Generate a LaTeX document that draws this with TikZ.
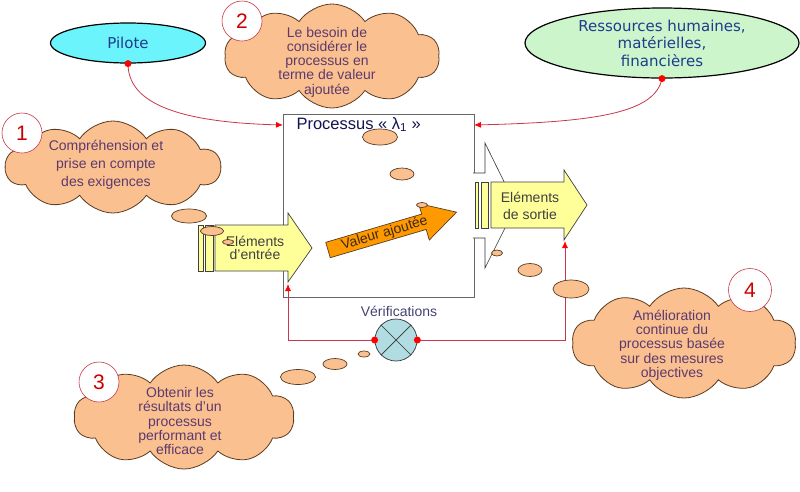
\documentclass[tikz,border=0pt]{standalone}
\usepackage{fontspec}
\setmainfont{Liberation Sans}
\newfontfamily\bullefont{DejaVu Sans}
\usetikzlibrary{shapes.symbols,shapes.geometric,arrows.meta,positioning}
\definecolor{peche}{HTML}{FAC08F}
\definecolor{brun}{HTML}{5A3A20}
\definecolor{violet}{HTML}{5C3A6E}
\definecolor{jaune}{HTML}{FFFF99}
\definecolor{orangef}{HTML}{FF9900}
\definecolor{cyanp}{HTML}{6CF4FC}
\definecolor{vertp}{HTML}{CCF5CC}
\definecolor{bleut}{HTML}{1F3C8C}
\definecolor{marine}{HTML}{141450}
\definecolor{rougel}{HTML}{C8384C}
\definecolor{bleuv}{HTML}{B0DCE2}
\definecolor{grist}{HTML}{404040}

\begin{document}
\begin{tikzpicture}[x=1pt,y=-1pt,
  nuage/.style={cloud, cloud puffs=10, cloud puff arc=112, cloud ignores aspect, draw=brun, fill=peche, line width=0.8pt, inner sep=0pt},
  bulle/.style={ellipse, draw=brun, fill=peche, line width=0.7pt, inner sep=0pt},
  badge/.style={circle, draw=rougel, fill=white, line width=0.6pt, minimum size=40pt, inner sep=0pt, text=red!80!black, font=\fontsize{21}{21}\selectfont},
  txtnuage/.style={align=center, text=violet, font=\fontsize{14}{14.3}\selectfont},
  txtfleche/.style={align=center, text=grist, font=\fontsize{14}{13}\selectfont},
  fleche/.style={draw=black!75, line width=0.7pt},
  lien/.style={draw=rougel, line width=0.8pt, -{Latex[length=7pt,width=6pt,color=red]}},
  point/.style={circle, fill=red, inner sep=0pt, minimum size=7pt},
]
\useasboundingbox (0,0) rectangle (800,491);

\node (pilote) [ellipse, draw, line width=1.2pt, fill=cyanp, minimum width=155, minimum height=40, inner sep=0pt, text=bleut, font=\bullefont\fontsize{15}{15}\selectfont] at (128,43) {Pilote};
\node (ress) [ellipse, draw, line width=1.2pt, fill=vertp, minimum width=274, minimum height=70, inner sep=0pt, align=center, text=bleut, font=\bullefont\fontsize{15}{17.5}\selectfont] at (662,43) {Ressources humaines,\\matérielles,\\financières};

\node (proc) [draw=black!60, line width=1pt, fill=white, minimum width=191, minimum height=183, inner sep=0pt, anchor=north west] at (283,114) {};
\coordinate (proc-in) at (283,125);
\coordinate (proc-res) at (474,125);
\node (titre) [anchor=base west, text=marine, font=\fontsize{16.5}{16}\selectfont] at (293,129) {Processus « λ\textsubscript{1} »};

\draw[lien] (pilote.south) .. controls (128,100) and (170,122) .. (proc-in);
\draw[lien] (ress.south) .. controls (655,112) and (600,122) .. (proc-res);
\node[point] at (pilote.south) {};
\node[point] at (ress.south) {};

\node (nuage1) [nuage, minimum width=215, minimum height=92] at (113,167) {};
\node (txt1) [txtnuage, font=\fontsize{14}{18}\selectfont] at (106,165) {Compréhension et\\prise en compte\\des exigences};
\node (num1) [badge] at (22,133) {1};

\node (nuage2) [nuage, minimum width=215, minimum height=104] at (332,56) {};
\node (txt2) [txtnuage] at (327,62) {Le besoin de\\considérer le\\processus en\\terme de valeur\\ajoutée};
\node (num2) [badge] at (242,21) {2};

\node (nuage3) [nuage, minimum width=220, minimum height=104] at (184,417) {};
\node (txt3) [txtnuage] at (180,421) {Obtenir les\\résultats d’un\\processus\\performant et\\efficace};
\node (num3) [badge] at (99,382) {3};

\node (nuage4) [nuage, minimum width=224, minimum height=110] at (684,343) {};
\node (txt4) [txtnuage] at (672,345) {Amélioration\\continue du\\processus basée\\sur des mesures\\objectives};
\node (num4) [badge, minimum size=43pt] at (750,290) {4};

\draw[fleche, fill=jaune] (198,225) rectangle (203,271);
\draw[fleche, fill=jaune] (205,225) rectangle (213,271);
\draw[fleche, fill=jaune] (215,225) -- (288,225) -- (288,213) -- (312,248) -- (288,282) -- (288,271) -- (215,271) -- cycle;
\node (entree) [txtfleche] at (255,248) {Eléments\\d’entrée};

\draw[fill=white, draw=black!80, line width=0.6pt] (473,173) -- (485,173) -- (485,143) -- (516,206) -- (485,268) -- (485,238) -- (473,238);
\draw[fleche, fill=jaune] (475,182) rectangle (478,228);
\draw[fleche, fill=jaune] (481,182) rectangle (488,228);
\draw[fleche, fill=jaune] (491,182) -- (564,182) -- (564,170) -- (587,205) -- (564,240) -- (564,228) -- (491,228) -- cycle;
\node (sortie) [txtfleche, font=\fontsize{14}{16.5}\selectfont] at (530,206) {Eléments\\de sortie};

\begin{scope}[shift={(328,250)}, rotate=16.4]
\draw[draw=brun, line width=0.7pt, fill=orangef] (0,-8) -- (100,-8) -- (100,-19) -- (134,0) -- (100,19) -- (100,8) -- (0,8) -- cycle;
\node (valeur) [rotate=16.4, text=brun!70!black, font=\fontsize{14}{14}\selectfont] at (59,0) {Valeur ajoutée};
\end{scope}

\coordinate (pied-in) at (288,284);
\coordinate (pied-out) at (565,241);
\node (verif) [circle, draw=black!80, line width=0.7pt, fill=bleuv, minimum size=42, inner sep=0pt] at (396,340) {};
\draw[black!80, line width=0.7pt] (verif.north west) -- (verif.south east) (verif.north east) -- (verif.south west);
\draw[lien] (verif.west) -| (pied-in);
\draw[lien] (verif.east) -| (pied-out);
\node[point] at (verif.west) {};
\node[point] at (verif.east) {};
\node (verif-txt) [text=marine!80, font=\fontsize{14}{14}\selectfont] at (399,311) {Vérifications};

\node (b1a) [bulle, minimum width=35, minimum height=14] at (189,216) {};
\node (b1b) [bulle, minimum width=23, minimum height=9] at (212,231) {};
\node (b1c) [bulle, minimum width=11, minimum height=5] at (228,242) {};
\node (b2a) [bulle, minimum width=35, minimum height=16] at (380,137) {};
\node (b2b) [bulle, minimum width=24, minimum height=12] at (402,174) {};
\node (b2c) [bulle, minimum width=11, minimum height=5] at (422,205) {};
\node (b3a) [bulle, minimum width=35, minimum height=15] at (298,377) {};
\node (b3b) [bulle, minimum width=24, minimum height=11] at (335,364) {};
\node (b3c) [bulle, minimum width=12, minimum height=6] at (364,354) {};
\node (b4a) [bulle, minimum width=36, minimum height=18] at (571,289) {};
\node (b4b) [bulle, minimum width=24, minimum height=13] at (530,270) {};
\node (b4c) [bulle, minimum width=11, minimum height=6] at (497,253) {};
\end{tikzpicture}
\end{document}
